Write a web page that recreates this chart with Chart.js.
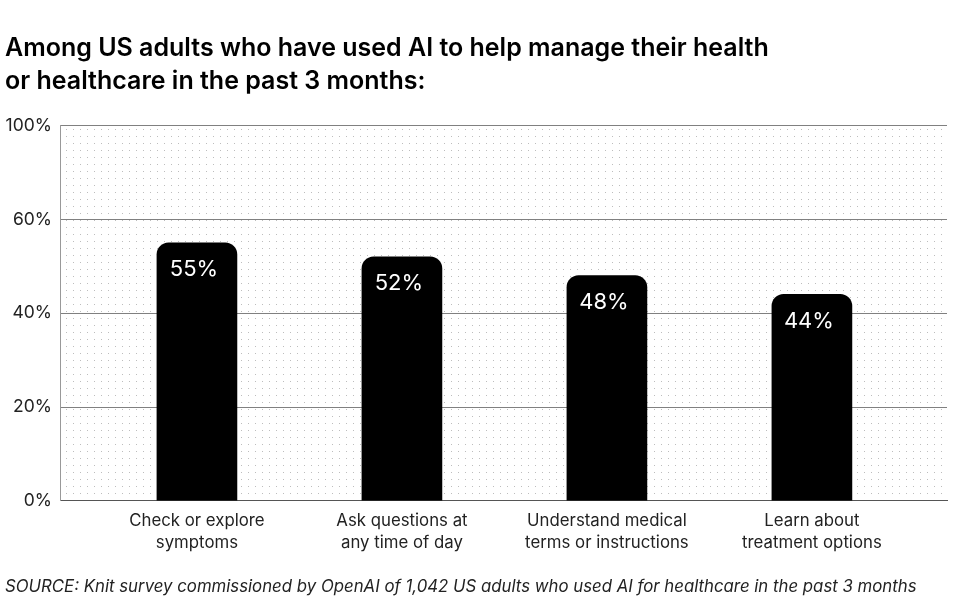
<!DOCTYPE html>
<html lang="en">
<head>
<meta charset="UTF-8">
<title>AI for health</title>
<script src="https://cdn.jsdelivr.net/npm/chart.js"></script>
<style>
    html, body { margin: 0; padding: 0; background: #fff; }
    .wrap { width: 953px; height: 611px; }
</style>
</head>
<body>
<div class="wrap"><canvas id="chart" width="953" height="611"></canvas></div>
<script>
    // data
    const categories = [
        ['Check or explore', 'symptoms'],
        ['Ask questions at', 'any time of day'],
        ['Understand medical', 'terms or instructions'],
        ['Learn about', 'treatment options']
    ];
    const shares = [55, 52, 48, 44];
    const yTicks = [0, 20, 40, 60, 80];
    const yTickLabels = ['0%', '20%', '40%', '60%', '100%'];
    const titleLines = [
        'Among US adults who have used AI to help manage their health',
        'or healthcare in the past 3 months:'
    ];
    const sourceText = 'SOURCE: Knit survey commissioned by OpenAI of 1,042 US adults who used AI for healthcare in the past 3 months';

    const FONT = "Inter, 'Noto Sans', sans-serif";

    // dotted paper behind the plot
    const dotsPlugin = {
        id: 'dots',
        beforeDraw(chart) {
            const { ctx, chartArea: a } = chart;
            const tile = document.createElement('canvas');
            tile.width = 7; tile.height = 7;
            const t = tile.getContext('2d');
            t.fillStyle = '#bdbdbd';
            t.fillRect(3, 3, 1, 1);
            ctx.save();
            ctx.fillStyle = ctx.createPattern(tile, 'repeat');
            ctx.fillRect(a.left, a.top, a.right - a.left, a.bottom - a.top);
            ctx.restore();
        }
    };

    // white value labels inside the bar tops
    const barLabels = {
        id: 'barLabels',
        afterDatasetsDraw(chart) {
            const ctx = chart.ctx;
            const meta = chart.getDatasetMeta(0);
            ctx.save();
            ctx.fillStyle = '#fff';
            ctx.font = '22px ' + FONT;
            ctx.textAlign = 'center';
            ctx.textBaseline = 'middle';
            meta.data.forEach(function(bar, i) {
                ctx.fillText(shares[i] + '%', bar.x - 3, bar.y + 27);
            });
            ctx.restore();
        }
    };

    new Chart(document.getElementById('chart'), {
        type: 'bar',
        data: {
            datasets: [{
                data: shares.map(function(v, i) { return { x: i, y: v }; }),
                backgroundColor: '#000',
                barThickness: 80,
                borderSkipped: 'bottom',
                borderRadius: { topLeft: 12, topRight: 12, bottomLeft: 0, bottomRight: 0 }
            }]
        },
        options: {
            responsive: false,
            animation: false,
            layout: { padding: { left: 5, right: 6, top: 0, bottom: 0 } },
            plugins: {
                legend: { display: false },
                tooltip: { enabled: false },
                title: {
                    display: true,
                    text: titleLines,
                    align: 'start',
                    color: '#000',
                    font: { family: FONT, size: 25, weight: '600', lineHeight: 1.33 },
                    padding: { top: 32, bottom: 27 }
                },
                subtitle: {
                    display: true,
                    position: 'bottom',
                    text: sourceText,
                    align: 'start',
                    color: '#222',
                    font: { family: FONT, size: 16.8, style: 'italic', lineHeight: 1.2 },
                    padding: { top: 8, bottom: 14 }
                }
            },
            scales: {
                x: {
                    type: 'linear',
                    offset: false,
                    min: -0.668,
                    max: 3.659,
                    afterBuildTicks(scale) {
                        scale.ticks = categories.map(function(c, i) { return { value: i }; });
                    },
                    afterFit(scale) { scale.height = 68; },
                    ticks: {
                        color: '#222',
                        font: { family: FONT, size: 16.8, lineHeight: 1.32 },
                        padding: 9,
                        maxRotation: 0,
                        autoSkip: false,
                        callback: function(v) { return categories[v]; }
                    },
                    grid: { display: false, drawTicks: false, offset: false },
                    border: { display: true, color: '#555', width: 1 }
                },
                y: {
                    min: 0,
                    max: 80,
                    afterBuildTicks(scale) {
                        scale.ticks = yTicks.map(function(v) { return { value: v }; });
                    },
                    afterFit(scale) { scale.width = 55; },
                    ticks: {
                        color: '#222',
                        font: { family: FONT, size: 17.5 },
                        padding: 8,
                        callback: function(v) { return yTickLabels[yTicks.indexOf(v)]; }
                    },
                    grid: { color: '#808080', lineWidth: 1, drawTicks: false },
                    border: { display: true, color: '#999', width: 1 }
                }
            }
        },
        plugins: [dotsPlugin, barLabels]
    });
</script>
</body>
</html>
